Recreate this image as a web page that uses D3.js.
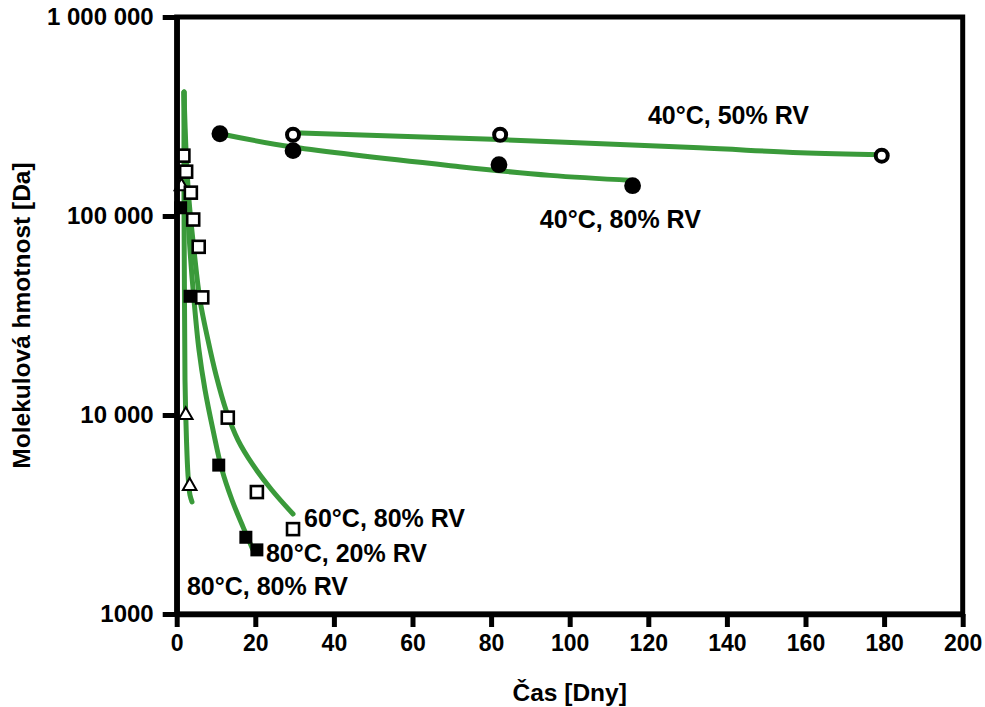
<!DOCTYPE html>
<html>
<head>
<meta charset="utf-8">
<script src="https://cdn.jsdelivr.net/npm/d3@7"></script>
<style>
  html, body { margin: 0; padding: 0; background: #fff; }
  svg { display: block; font-family: "Liberation Sans", Arial, sans-serif; font-weight: bold; }
</style>
</head>
<body>
<svg id="chart" width="985" height="707"></svg>
<script>
// ---- data ----
const xTicks = [0, 20, 40, 60, 80, 100, 120, 140, 160, 180, 200];
const yTicks = [1000, 10000, 100000, 1000000];
const yTickLabels = ["1000", "10 000", "100 000", "1 000 000"];

const conditions = ["40°C, 50% RV", "40°C, 80% RV", "60°C, 80% RV", "80°C, 20% RV", "80°C, 80% RV"];

// measured points: day, molecular weight
const days4050 = [29.6, 82.3, 179.4];
const mw4050   = [256000, 256000, 201000];
const days4080 = [11, 29.6, 82, 116];
const mw4080   = [259000, 213000, 181000, 142000];
const days6080 = [1.7, 2.4, 3.6, 4.2, 5.6, 6.5, 13, 20.4, 29.6];
const mw6080   = [201000, 167000, 131000, 96000, 70000, 39000, 9700, 4100, 2670];
const days8020 = [1.0, 3.4, 10.7, 17.6, 20.4];
const mw8020   = [110000, 39500, 5600, 2430, 2100];
const days8080 = [1.2, 2.3, 3.3];
const mw8080   = [141000, 10000, 4400];

// fitted trend curves
const fitDays4050 = [29.6, 82.3, 133, 158.7, 179.4];
const fitMw4050   = [262000, 242000, 220000, 208000, 203000];
const fitDays4080 = [11, 29.6, 72, 95, 116];
const fitMw4080   = [259000, 222000, 177000, 160000, 151000];
const fitDays6080 = [1.86, 2.37, 3.13, 4.40, 5.93, 7.96, 10.0, 12.54, 15.6, 19.4, 24.2, 29.6];
const fitMw6080   = [420000, 215000, 120000, 67400, 37800, 23800, 15900, 10600, 7480, 5610, 4200, 3180];
const fitDays8020 = [1.86, 2.11, 2.62, 3.38, 4.40, 5.67, 7.20, 9.24, 11.53, 14.07, 16.87, 19.42];
const fitMw8020   = [420000, 215000, 120000, 67400, 37800, 21200, 13400, 8410, 5300, 3740, 2740, 2100];
const fitDays8080 = [1.86, 1.86, 1.98, 2.11, 2.49, 2.88, 3.38, 3.89];
const fitMw8080   = [420000, 120000, 37800, 15000, 7480, 4990, 3960, 3660];

// label anchors (day, mw) for each condition, same order as conditions
const labelDays = [119.9, 92.4, 32.4, 22.7, 2.6];
const labelMw   = [290000, 87000, 2740, 1820, 1250];

// ---- chart ----
const svg = d3.select("#chart");
const x = d3.scaleLinear().domain([0, 200]).range([176.7, 962.7]);
const y = d3.scaleLog().domain([1000, 1000000]).range([614, 17]);
const green = "#3a9a3a";

const zip = (a, b) => a.map((d, i) => [d, b[i]]);

// frame
svg.append("rect")
  .attr("x", x(0)).attr("y", y(1000000))
  .attr("width", x(200) - x(0)).attr("height", y(1000) - y(1000000))
  .attr("fill", "none").attr("stroke", "#000").attr("stroke-width", 5);

// fit lines
const line = d3.line().x(d => x(d[0])).y(d => y(d[1])).curve(d3.curveCatmullRom.alpha(0.5));
const fits = [
  zip(fitDays4050, fitMw4050), zip(fitDays4080, fitMw4080),
  zip(fitDays6080, fitMw6080), zip(fitDays8020, fitMw8020), zip(fitDays8080, fitMw8080)
];
svg.append("g").selectAll("path").data(fits).join("path")
  .attr("d", line)
  .attr("fill", "none").attr("stroke", green).attr("stroke-width", 5)
  .attr("stroke-linecap", "round").attr("stroke-linejoin", "round");

// markers
const gm = svg.append("g");
// 80°C, 80% RV: open triangles
gm.selectAll(".tri").data(zip(days8080, mw8080)).join("path")
  .attr("class", "tri")
  .attr("transform", d => `translate(${x(d[0])},${y(d[1])})`)
  .attr("d", d3.symbol().type(d3.symbolTriangle).size(80))
  .attr("fill", "#fff").attr("stroke", "#000").attr("stroke-width", 2);
// 80°C, 20% RV: filled squares
gm.selectAll(".fsq").data(zip(days8020, mw8020)).join("rect")
  .attr("class", "fsq")
  .attr("x", d => x(d[0]) - 6.5).attr("y", d => y(d[1]) - 6.5)
  .attr("width", 13).attr("height", 13).attr("fill", "#000");
// 60°C, 80% RV: open squares
gm.selectAll(".osq").data(zip(days6080, mw6080)).join("rect")
  .attr("class", "osq")
  .attr("x", d => x(d[0]) - 6).attr("y", d => y(d[1]) - 6)
  .attr("width", 12).attr("height", 12)
  .attr("fill", "#fff").attr("stroke", "#000").attr("stroke-width", 2.6);
// 40°C, 80% RV: filled circles
gm.selectAll(".fci").data(zip(days4080, mw4080)).join("circle")
  .attr("class", "fci")
  .attr("cx", d => x(d[0])).attr("cy", d => y(d[1])).attr("r", 8.4).attr("fill", "#000");
// 40°C, 50% RV: open circles
gm.selectAll(".oci").data(zip(days4050, mw4050)).join("circle")
  .attr("class", "oci")
  .attr("cx", d => x(d[0])).attr("cy", d => y(d[1])).attr("r", 6)
  .attr("fill", "#fff").attr("stroke", "#000").attr("stroke-width", 4);

// axes
const yAxis = d3.axisLeft(y).tickValues(yTicks)
  .tickFormat((d, i) => yTickLabels[i]).tickSize(14).tickSizeOuter(0).tickPadding(9);
const gy = svg.append("g").attr("transform", `translate(${x(0)},0)`).call(yAxis);
const xAxis = d3.axisBottom(x).tickValues(xTicks).tickSize(13).tickSizeOuter(0).tickPadding(8);
const gx = svg.append("g").attr("transform", `translate(0,${y(1000)})`).call(xAxis);

[gx, gy].forEach(g => {
  g.select(".domain").attr("stroke", "#000").attr("stroke-width", 5.5);
  g.selectAll(".tick line").attr("stroke", "#000").attr("stroke-width", 5);
  g.selectAll(".tick text").attr("fill", "#000")
    .style("font-family", '"Liberation Sans", Arial, sans-serif')
    .style("font-weight", "bold").style("font-size", "23px");
});
gy.selectAll(".tick text").style("font-size", "24px");

// condition labels
svg.append("g").selectAll("text").data(conditions).join("text")
  .attr("x", (d, i) => x(labelDays[i])).attr("y", (d, i) => y(labelMw[i]))
  .attr("font-size", 25).attr("fill", "#000")
  .text(d => d);

// axis titles
svg.append("text")
  .attr("x", (x(0) + x(200)) / 2).attr("y", 701)
  .attr("text-anchor", "middle").attr("font-size", 24.5)
  .text("Čas [Dny]");
svg.append("text")
  .attr("transform", `translate(30,${(y(1000) + y(1000000)) / 2}) rotate(-90)`)
  .attr("text-anchor", "middle").attr("font-size", 24.5)
  .text("Molekulová hmotnost [Da]");
</script>
</body>
</html>
